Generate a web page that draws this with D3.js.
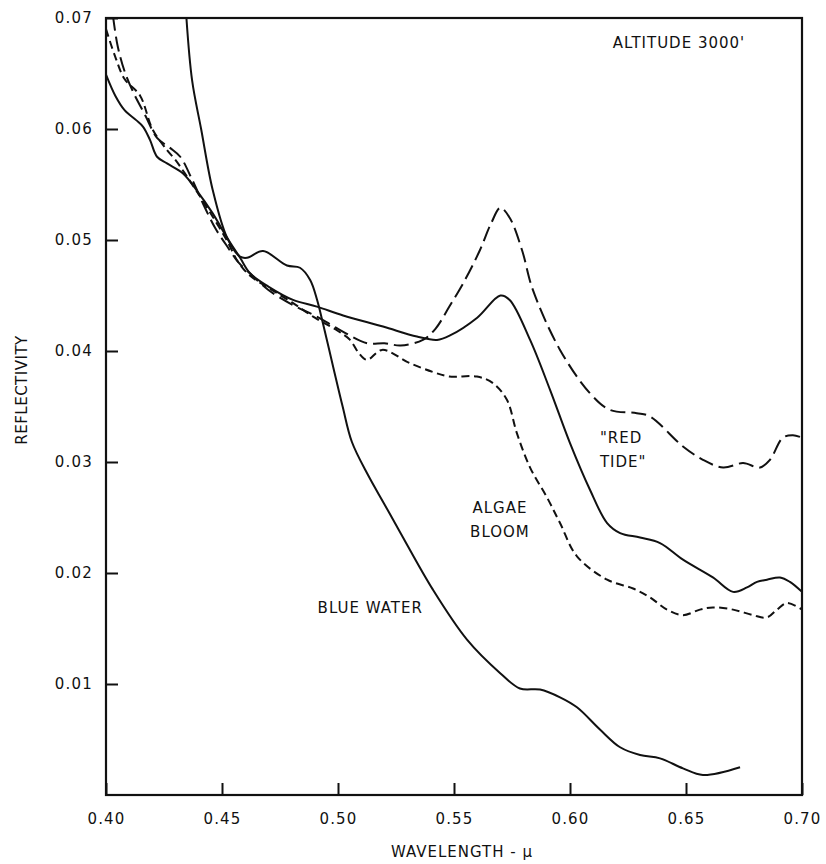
<!DOCTYPE html>
<html>
<head>
<meta charset="utf-8">
<script src="https://cdn.jsdelivr.net/npm/d3@7"></script>
<style>
  body { margin: 0; background: #fff; }
  text { font-family: "DejaVu Sans", sans-serif; fill: #111; }
</style>
</head>
<body>
<svg id="chart" width="826" height="864"></svg>
<script>
// reflectivity vs wavelength (microns)
var blueWater = [
  [0.4345, 0.0705], [0.4371, 0.0644], [0.4410, 0.0600], [0.4460, 0.0545], [0.4522, 0.0502],
  [0.4578, 0.0485], [0.4608, 0.0484], [0.4677, 0.0490], [0.4780, 0.0477], [0.4836, 0.0475],
  [0.4880, 0.0464], [0.4910, 0.0446], [0.4935, 0.0425], [0.4980, 0.0385], [0.5020, 0.0350],
  [0.5060, 0.0318], [0.5130, 0.0288], [0.5200, 0.0262], [0.5267, 0.0237], [0.5409, 0.0185],
  [0.5556, 0.0140], [0.5698, 0.0110], [0.5784, 0.0096], [0.5871, 0.0095], [0.5957, 0.0088],
  [0.6030, 0.0079], [0.6129, 0.0059], [0.6216, 0.0043], [0.6302, 0.0036], [0.6388, 0.0033],
  [0.6487, 0.0024], [0.6573, 0.0018], [0.6733, 0.0025]
];

var algaeSolid = [
  [0.4000, 0.0649], [0.4040, 0.0630], [0.4080, 0.0617], [0.4130, 0.0608], [0.4160, 0.0602],
  [0.4190, 0.0590], [0.4220, 0.0575], [0.4263, 0.0569], [0.4332, 0.0560], [0.4390, 0.0545],
  [0.4460, 0.0524], [0.4522, 0.0502], [0.4578, 0.0484], [0.4621, 0.0470], [0.4700, 0.0458],
  [0.4806, 0.0446], [0.4909, 0.0440], [0.5022, 0.0432], [0.5194, 0.0422], [0.5340, 0.0413],
  [0.5427, 0.0410], [0.5483, 0.0414], [0.5600, 0.0430], [0.5700, 0.0450], [0.5740, 0.0446],
  [0.5828, 0.0410], [0.5914, 0.0365], [0.6000, 0.0317], [0.6086, 0.0275], [0.6160, 0.0245],
  [0.6216, 0.0236], [0.6302, 0.0232], [0.6388, 0.0227], [0.6487, 0.0212], [0.6616, 0.0196],
  [0.6703, 0.0183], [0.6763, 0.0187], [0.6806, 0.0192], [0.6849, 0.0194], [0.6905, 0.0196],
  [0.6948, 0.0192], [0.7000, 0.0183]
];

var algaeDashed = [
  [0.4000, 0.0690], [0.4040, 0.0665], [0.4080, 0.0645], [0.4147, 0.0630], [0.4200, 0.0600],
  [0.4263, 0.0581], [0.4300, 0.0572], [0.4340, 0.0560], [0.4400, 0.0541], [0.4460, 0.0521],
  [0.4520, 0.0500], [0.4570, 0.0480], [0.4620, 0.0468], [0.4700, 0.0457], [0.4800, 0.0444],
  [0.4900, 0.0430], [0.5000, 0.0418], [0.5052, 0.0410], [0.5090, 0.0398], [0.5125, 0.0392],
  [0.5190, 0.0401], [0.5310, 0.0389], [0.5410, 0.0381], [0.5480, 0.0377], [0.5599, 0.0377],
  [0.5668, 0.0371], [0.5728, 0.0356], [0.5771, 0.0326], [0.5828, 0.0295], [0.5901, 0.0268],
  [0.5957, 0.0245], [0.6030, 0.0215], [0.6160, 0.0194], [0.6272, 0.0186], [0.6345, 0.0178],
  [0.6418, 0.0167], [0.6487, 0.0162], [0.6560, 0.0167], [0.6616, 0.0169], [0.6703, 0.0167],
  [0.6789, 0.0162], [0.6849, 0.0160], [0.6892, 0.0167], [0.6935, 0.0173], [0.7000, 0.0167]
];

var redTide = [
  [0.4030, 0.0702], [0.4050, 0.0675], [0.4080, 0.0652], [0.4120, 0.0632], [0.4170, 0.0612],
  [0.4220, 0.0592], [0.4276, 0.0583], [0.4320, 0.0575], [0.4370, 0.0555], [0.4420, 0.0532],
  [0.4470, 0.0511], [0.4520, 0.0495], [0.4570, 0.0480], [0.4630, 0.0468], [0.4700, 0.0455],
  [0.4800, 0.0442], [0.4900, 0.0432], [0.5000, 0.0420], [0.5125, 0.0407], [0.5200, 0.0407],
  [0.5270, 0.0405], [0.5366, 0.0410], [0.5420, 0.0420], [0.5480, 0.0440], [0.5550, 0.0465],
  [0.5612, 0.0491], [0.5660, 0.0515], [0.5700, 0.0529], [0.5740, 0.0520], [0.5793, 0.0491],
  [0.5840, 0.0455], [0.5957, 0.0401], [0.6086, 0.0362], [0.6172, 0.0347], [0.6288, 0.0344],
  [0.6345, 0.0341], [0.6487, 0.0314], [0.6573, 0.0302], [0.6660, 0.0295], [0.6746, 0.0299],
  [0.6819, 0.0295], [0.6862, 0.0302], [0.6918, 0.0322], [0.6961, 0.0324], [0.7000, 0.0322]
];

var xTicks = [0.40, 0.45, 0.50, 0.55, 0.60, 0.65, 0.70];
var yTicks = [0.01, 0.02, 0.03, 0.04, 0.05, 0.06, 0.07];

var curveLabels = [
  {lines: ["ALTITUDE 3000'"], x: 0.6470, y: 0.0673, anchor: "middle"},
  {lines: ["\"RED", "TIDE\""], x: 0.6129, y: 0.0317, anchor: "start"},
  {lines: ["ALGAE", "BLOOM"], x: 0.5698, y: 0.0254, anchor: "middle"},
  {lines: ["BLUE WATER"], x: 0.5366, y: 0.0164, anchor: "end"}
];

var svg = d3.select("#chart");
var margin = {top: 18, right: 24, bottom: 69, left: 106};
var width = 826 - margin.left - margin.right,
    height = 864 - margin.top - margin.bottom;

var g = svg.append("g").attr("transform", "translate(" + margin.left + "," + margin.top + ")");

var x = d3.scaleLinear().domain([0.40, 0.70]).range([0, width]);
var y = d3.scaleLinear().domain([0, 0.07]).range([height, 0]);

g.append("clipPath").attr("id", "clip")
  .append("rect").attr("width", width).attr("height", height);

var line = d3.line()
  .x(function(d) { return x(d[0]); })
  .y(function(d) { return y(d[1]); })
  .curve(d3.curveCatmullRom.alpha(0.5));

var series = [
  {data: blueWater, dash: null},
  {data: algaeSolid, dash: null},
  {data: algaeDashed, dash: "8,4.5"},
  {data: redTide, dash: "15,6"}
];

g.append("g").attr("clip-path", "url(#clip)")
  .selectAll("path")
  .data(series)
  .enter().append("path")
  .attr("d", function(d) { return line(d.data); })
  .attr("fill", "none")
  .attr("stroke", "#111")
  .attr("stroke-width", 2)
  .attr("stroke-dasharray", function(d) { return d.dash; });

// frame
g.append("rect")
  .attr("width", width).attr("height", height)
  .attr("fill", "none").attr("stroke", "#111").attr("stroke-width", 2.2);

// axes with inward ticks
var xAxis = g.append("g")
  .attr("transform", "translate(0," + height + ")")
  .call(d3.axisBottom(x).tickValues(xTicks).tickSizeInner(-12).tickSizeOuter(0).tickPadding(18)
        .tickFormat(d3.format(".2f")));
xAxis.select(".domain").remove();

var yAxis = g.append("g")
  .call(d3.axisLeft(y).tickValues(yTicks).tickSizeInner(-12).tickSizeOuter(0).tickPadding(13)
        .tickFormat(d3.format(".2f")));
yAxis.select(".domain").remove();

svg.selectAll(".tick line").attr("stroke", "#111").attr("stroke-width", 2);
svg.selectAll(".tick text")
  .attr("font-family", "DejaVu Sans, sans-serif")
  .attr("font-size", 15)
  .attr("letter-spacing", 1.2)
  .attr("fill", "#111");

// axis titles
svg.append("text")
  .attr("x", margin.left + width / 2 + 8)
  .attr("y", 857)
  .attr("text-anchor", "middle")
  .attr("font-size", 15)
  .attr("letter-spacing", 1)
  .text("WAVELENGTH - \u03bc");

svg.append("text")
  .attr("transform", "translate(27," + 390 + ") rotate(-90)")
  .attr("text-anchor", "middle")
  .attr("font-size", 15)
  .attr("letter-spacing", 0.5)
  .text("REFLECTIVITY");

// curve labels
curveLabels.forEach(function(lb) {
  var t = g.append("text")
    .attr("x", x(lb.x))
    .attr("y", y(lb.y))
    .attr("text-anchor", lb.anchor)
    .attr("font-size", 15)
    .attr("letter-spacing", 1);
  lb.lines.forEach(function(s, i) {
    t.append("tspan").attr("x", x(lb.x)).attr("dy", i === 0 ? 0 : 24).text(s);
  });
});
</script>
</body>
</html>
